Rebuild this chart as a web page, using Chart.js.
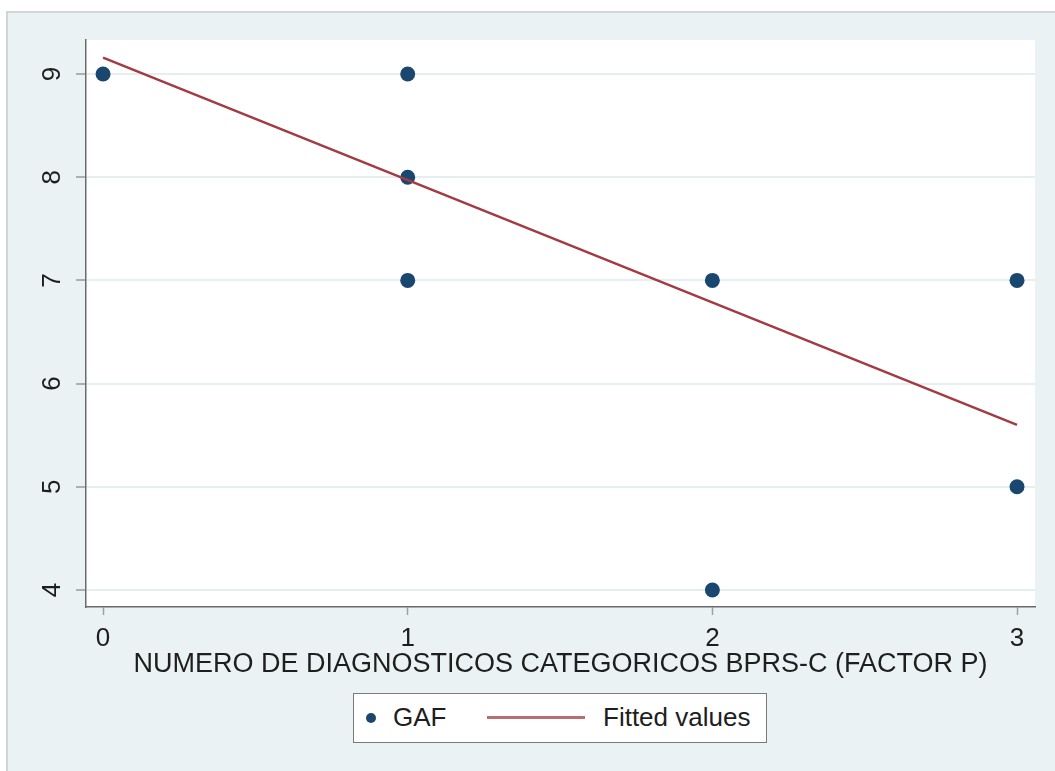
<!DOCTYPE html>
<html>
<head>
<meta charset="utf-8">
<script src="https://cdn.jsdelivr.net/npm/chart.js@4"></script>
<style>
  html, body { margin: 0; padding: 0; background: #ffffff; width: 1055px; height: 771px; overflow: hidden; }
  #outer { position: absolute; left: 6px; top: 11px; right: 0; bottom: 0; background: #eaf2f3;
           border-left: 2px solid #d2d4d5; border-top: 2px solid #d2d4d5; }
  #c { position: absolute; left: 0; top: 0; }
  #legend { position: absolute; left: 353px; top: 693px; width: 412px; height: 48px; background: #fff;
            border: 1px solid #7a7a7a; font-family: "Liberation Sans", Arial, sans-serif; font-size: 26px; color: #1e1e1e; }
  #legend .it { position: absolute; }
</style>
</head>
<body>
<div id="outer"></div>
<canvas id="c" width="1055" height="771"></canvas>
<div id="legend"></div>
<script>
// ---- data ----
const gafX = [0, 1, 1, 1, 2, 2, 3, 3];
const gafY = [9, 9, 8, 7, 7, 4, 7, 5];
const fitX = [0, 3];
const fitY = [9.16, 5.6];
const xTicks = [0, 1, 2, 3];
const yTicks = [4, 5, 6, 7, 8, 9];
const xTitle = "NUMERO DE DIAGNOSTICOS CATEGORICOS BPRS-C (FACTOR P)";
const seriesNames = ["GAF", "Fitted values"];

const navy = '#1a476f';
const maroon = '#a23b43';
const FONT = '"Liberation Sans", Arial, sans-serif';

const plotBg = {
  id: 'plotBg',
  beforeDraw(chart) {
    const {ctx, chartArea: a} = chart;
    ctx.save();
    ctx.fillStyle = '#ffffff';
    ctx.fillRect(a.left, a.top, a.right - a.left, a.bottom - a.top);
    ctx.restore();
  }
};

const chart = new Chart(document.getElementById('c'), {
  type: 'scatter',
  data: {
    datasets: [
      {
        label: seriesNames[0],
        data: gafX.map((x, i) => ({x, y: gafY[i]})),
        backgroundColor: navy,
        borderWidth: 0,
        pointRadius: 7.5,
        order: 1
      },
      {
        label: seriesNames[1],
        type: 'line',
        data: fitX.map((x, i) => ({x, y: fitY[i]})),
        borderColor: maroon,
        borderWidth: 2.5,
        pointRadius: 0,
        fill: false,
        order: 0
      }
    ]
  },
  options: {
    responsive: false,
    animation: false,
    events: [],
    layout: { padding: { left: 0, top: 40, right: 20, bottom: 84 } },
    plugins: { legend: { display: false }, tooltip: { enabled: false } },
    scales: {
      x: {
        type: 'linear',
        min: -0.056, max: 3.059,
        afterBuildTicks: s => { s.ticks = xTicks.map(v => ({value: v})); },
        afterFit: s => { s.height = 80; },
        grid: { drawOnChartArea: false, drawTicks: true, tickLength: 8, tickColor: '#a0a0a0', tickWidth: 1.5 },
        border: { display: true, color: '#6a6a6a', width: 1.5 },
        ticks: { font: { family: FONT, size: 26 }, color: '#1e1e1e', padding: 8, maxRotation: 0 },
        title: { display: true, text: xTitle, font: { family: FONT, size: 27 }, color: '#1e1e1e',
                 padding: { top: 0, bottom: 6 } }
      },
      y: {
        type: 'linear',
        min: 3.835, max: 9.33,
        afterBuildTicks: s => { s.ticks = yTicks.map(v => ({value: v})); },
        afterFit: s => { s.width = 86; },
        grid: { color: '#e6eff0', lineWidth: 2, drawTicks: true, tickLength: 10, tickColor: '#9a9a9a', tickWidth: 1.5 },
        border: { display: true, color: '#6a6a6a', width: 1.5 },
        ticks: { font: { family: FONT, size: 26 }, color: '#1e1e1e', padding: 16,
                 minRotation: 90, maxRotation: 90, crossAlign: 'center' }
      }
    }
  },
  plugins: [plotBg]
});

// ---- legend built from the datasets ----
const lg = document.getElementById('legend');
const ds = chart.data.datasets;
const dot = document.createElement('div');
dot.className = 'it';
Object.assign(dot.style, { left: '12px', top: '19px', width: '10px', height: '10px', borderRadius: '50%', background: ds[0].backgroundColor });
lg.appendChild(dot);
const t1 = document.createElement('div');
t1.className = 'it'; t1.textContent = ds[0].label;
Object.assign(t1.style, { left: '39px', top: '8px', lineHeight: '30px' });
lg.appendChild(t1);
const ln = document.createElement('div');
ln.className = 'it';
Object.assign(ln.style, { left: '133px', top: '22px', width: '98px', height: '3px', background: ds[1].borderColor, opacity: 0.75 });
lg.appendChild(ln);
const t2 = document.createElement('div');
t2.className = 'it'; t2.textContent = ds[1].label;
Object.assign(t2.style, { left: '249px', top: '8px', lineHeight: '30px' });
lg.appendChild(t2);
</script>
</body>
</html>
